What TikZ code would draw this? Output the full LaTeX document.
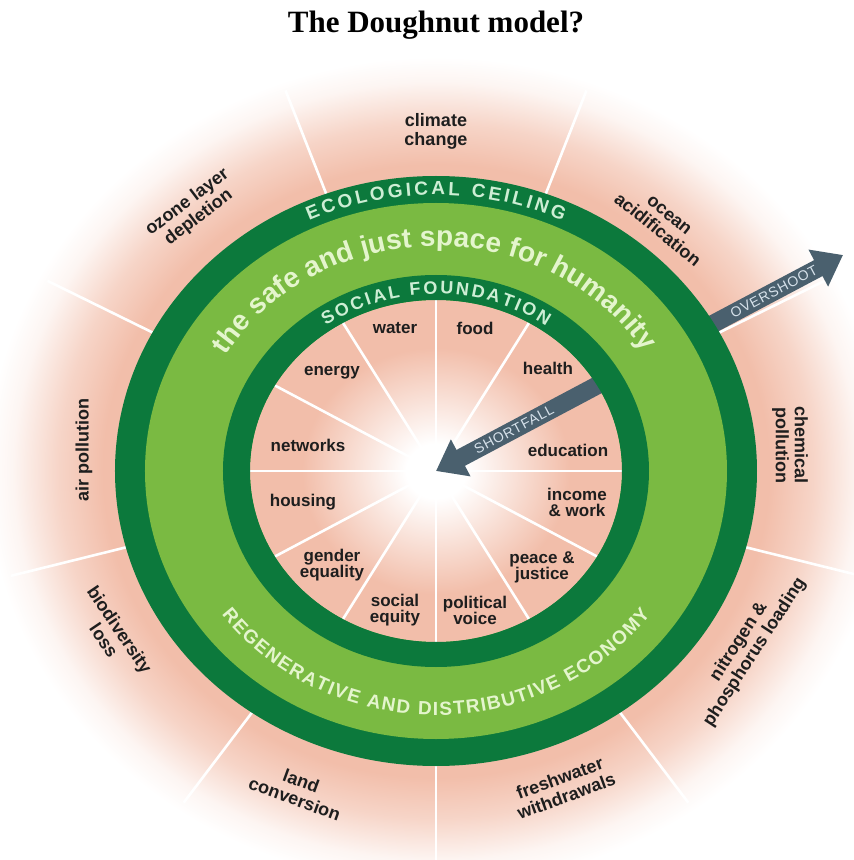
\documentclass[tikz,border=0pt]{standalone}
\usepackage{fontspec}
\setmainfont{Liberation Serif}
\setsansfont{Liberation Sans}
\usetikzlibrary{arrows.meta, decorations.text}

\definecolor{darkgreen}{RGB}{12,121,60}
\definecolor{lightgreen}{RGB}{122,186,66}
\definecolor{doughpink}{RGB}{242,190,170}
\definecolor{mint}{RGB}{205,238,212}
\definecolor{palegreen}{RGB}{228,245,205}
\definecolor{slate}{RGB}{74,96,110}
\definecolor{arrowtxt}{RGB}{215,226,235}
\definecolor{labelgray}{RGB}{30,30,30}

\pgfdeclareradialshading{outerglow}{\pgfpoint{0bp}{0bp}}{color(0bp)=(doughpink); color(18.5bp)=(doughpink); color(21bp)=(doughpink!65!white); color(23.5bp)=(doughpink!15!white); color(25bp)=(white); color(50bp)=(white)}
\pgfdeclareradialshading{innerglow}{\pgfpoint{0bp}{0bp}}{color(0bp)=(white); color(4bp)=(white); color(18bp)=(doughpink); color(25bp)=(doughpink); color(50bp)=(doughpink)}

\begin{document}
\begin{tikzpicture}[x=1pt, y=1pt,
    spoke/.style={white, line width=2.6pt},
    bigarrow/.style={slate, line width=18pt, -{Triangle[length=28pt, width=40pt]}},
    arrowtext/.style={font=\sffamily\fontsize{14}{14}\selectfont\addfontfeature{LetterSpace=6}, text=arrowtxt, sloped},
    planet/.style={font=\sffamily\bfseries\fontsize{18}{19}\selectfont, text=labelgray, align=center},
    social/.style={font=\sffamily\bfseries\fontsize{17}{16}\selectfont, text=labelgray, align=center},
    ringtext/.style={decorate, decoration={text along path, text align={fit to path}, text={#1}}}]

  %%%%%%%%%%%%%%%%%%%%%%%%%%%%%%
  % Page and background glow   %
  %%%%%%%%%%%%%%%%%%%%%%%%%%%%%%
  \useasboundingbox (-436,-389) rectangle (418,471);
  \fill[white] (-436,-389) rectangle (418,471);
  \shade[shading=outerglow] (0,0) ellipse [x radius=450, y radius=414];

  % Title
  \node[font=\rmfamily\bfseries\fontsize{31}{31}\selectfont, anchor=base] (title) at (0,438) {The Doughnut model?};

  % Spokes between the planetary boundaries
  \foreach \a in {28,70,110,152,195,235,270,305,345}
    \draw[spoke] (\a:321 and 295) -- (\a:440 and 405);

  % Overshoot arrow (starts under the ring)
  \coordinate (hub) at (0,0);
  \coordinate (overstart) at (30:300 and 276);
  \coordinate (overtip) at (30:470 and 432);
  \draw[bigarrow] (overstart) -- node[arrowtext, pos=0.53] {OVERSHOOT} (overtip);

  %%%%%%%%%%%%%%%%%%%%%%%%%%%%%%
  % The rings                  %
  %%%%%%%%%%%%%%%%%%%%%%%%%%%%%%
  \fill[darkgreen] (0,0) ellipse [x radius=321, y radius=295];
  \fill[lightgreen] (0,0) ellipse [x radius=291, y radius=268];
  \shade[shading=innerglow] (0,0) ellipse [x radius=186, y radius=171];

  % Spokes between the social sectors
  \foreach \a in {0,30,...,330}
    \draw[spoke] (hub) -- (\a:186 and 171);

  % Shortfall arrow
  \coordinate (shortstart) at (30:200 and 184);
  \draw[bigarrow] (shortstart) -- node[arrowtext, pos=0.55] {SHORTFALL} (hub);

  % Social foundation ring on top of the arrow
  \fill[darkgreen, even odd rule] (0,0) ellipse [x radius=213, y radius=196]
                                  (0,0) ellipse [x radius=186, y radius=171];

  %%%%%%%%%%%%%%%%%%%%%%%%%%%%%%
  % Texts along the rings      %
  %%%%%%%%%%%%%%%%%%%%%%%%%%%%%%
  \path[ringtext={|\sffamily\bfseries\fontsize{19}{19}\selectfont\color{mint}|ECOLOGICAL CEILING}]
    (115:300 and 276) arc[start angle=115, end angle=65, x radius=300, y radius=276];
  \path[ringtext={|\sffamily\bfseries\fontsize{28}{28}\selectfont\color{palegreen}|the safe and just space for humanity}]
    (149:245 and 225) arc[start angle=149, end angle=32, x radius=245, y radius=225];
  \path[ringtext={|\sffamily\bfseries\fontsize{18}{18}\selectfont\color{mint}|SOCIAL FOUNDATION}]
    (125:192 and 177) arc[start angle=125, end angle=55, x radius=192, y radius=177];
  \path[ringtext={|\sffamily\bfseries\fontsize{19}{19}\selectfont\color{palegreen}|REGENERATIVE AND DISTRIBUTIVE ECONOMY}]
    (216:265 and 244) arc[start angle=216, end angle=324, x radius=265, y radius=244];

  %%%%%%%%%%%%%%%%%%%%%%%%%%%%%%
  % Planetary boundaries       %
  %%%%%%%%%%%%%%%%%%%%%%%%%%%%%%
  \node[planet] (climate) at (0,340) {climate\\change};
  \node[planet, rotate=37] (ozone) at (-243,261) {ozone layer\\depletion};
  \node[planet, rotate=-39] (ocean) at (227,248) {ocean\\acidification};
  \node[planet, rotate=90] (air) at (-352,21) {air pollution};
  \node[planet, rotate=-90] (chemical) at (354,26) {chemical\\pollution};
  \node[planet, rotate=-56] (biodiv) at (-324,-164) {biodiversity\\loss};
  \node[planet, rotate=57] (nitrogen) at (311,-176) {nitrogen \&\\phosphorus loading};
  \node[planet, rotate=-20] (land) at (-138,-319) {land\\conversion};
  \node[planet, rotate=20] (fresh) at (127,-316) {freshwater\\withdrawals};

  %%%%%%%%%%%%%%%%%%%%%%%%%%%%%%
  % Social foundation sectors  %
  %%%%%%%%%%%%%%%%%%%%%%%%%%%%%%
  \node[social] (water) at (-41,143) {water};
  \node[social] (food) at (39,143) {food};
  \node[social] (energy) at (-104,98) {energy};
  \node[social] (health) at (112,103) {health};
  \node[social] (networks) at (-128,26) {networks};
  \node[social] (education) at (132,21) {education};
  \node[social] (housing) at (-133,-31) {housing};
  \node[social] (income) at (141,-31) {income\\\& work};
  \node[social] (gender) at (-104,-94) {gender\\equality};
  \node[social] (peace) at (106,-96) {peace \&\\justice};
  \node[social] (equity) at (-41,-139) {social\\equity};
  \node[social] (voice) at (39,-139) {political\\voice};

\end{tikzpicture}
\end{document}
